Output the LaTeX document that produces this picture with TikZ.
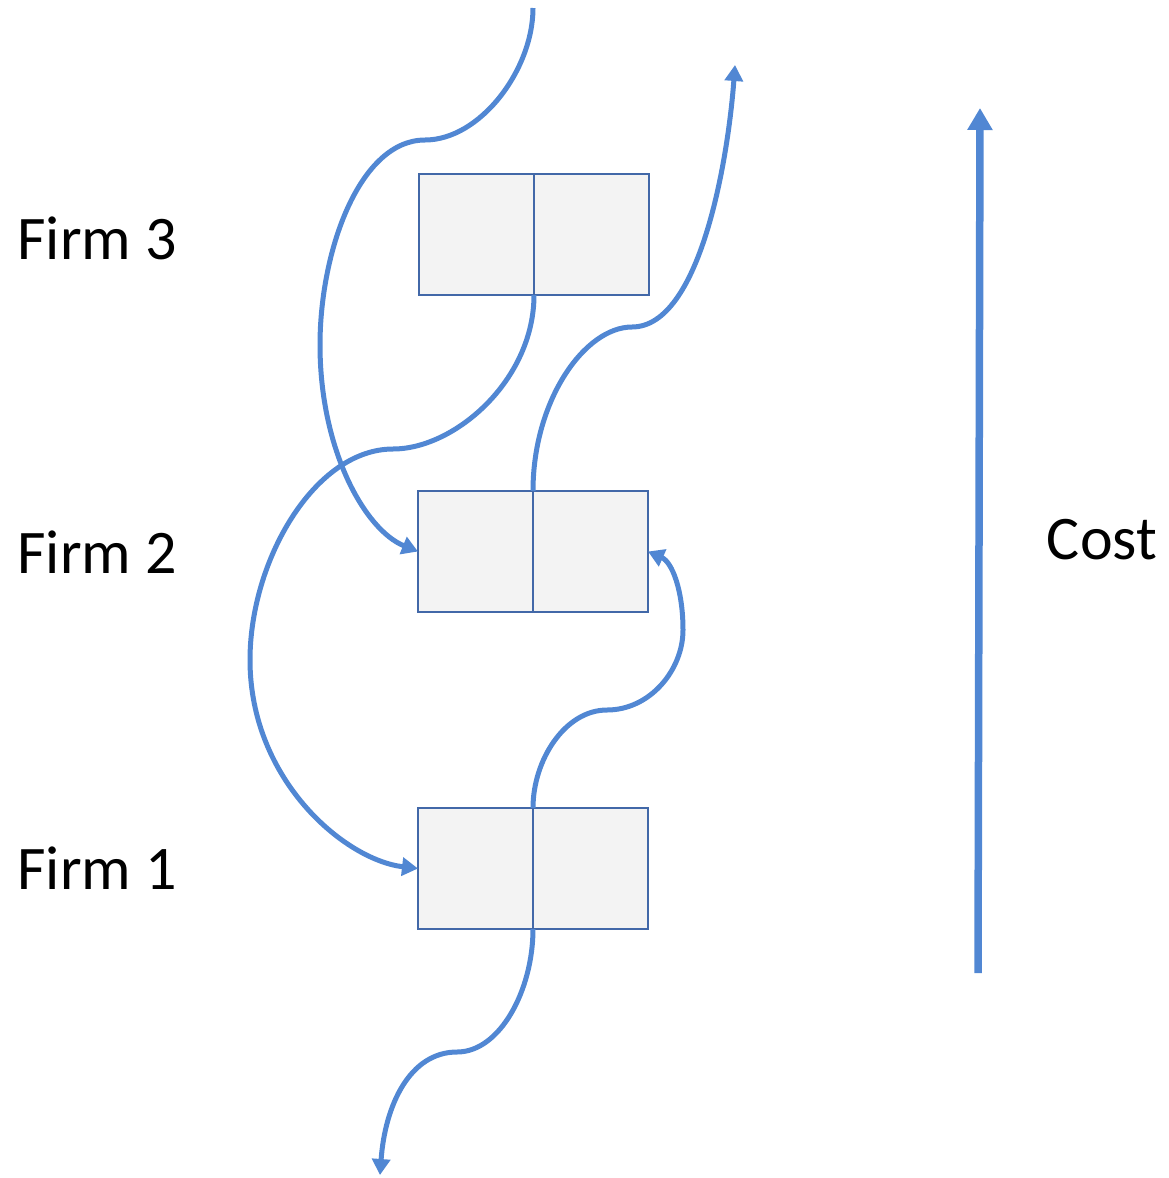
\documentclass[tikz,border=0pt]{standalone}
\usepackage{fontspec}
\setmainfont{Carlito}
\usetikzlibrary{arrows.meta}
\definecolor{flow}{HTML}{5187D3}
\definecolor{boxline}{HTML}{4268A8}
\definecolor{boxfill}{HTML}{F3F3F3}
\tikzset{
  half/.style={draw=boxline, fill=boxfill, line width=2pt, minimum width=115pt,
    minimum height=121pt, inner sep=0pt, outer sep=0pt},
  flowline/.style={draw=flow, line width=5pt, -{Triangle[width=18pt,length=16pt]}},
  costline/.style={draw=flow, line width=7.5pt, -{Triangle[width=24pt,length=22pt]}},
  firmlabel/.style={font=\fontsize{62}{74}\selectfont, inner sep=0pt}
}
\begin{document}
\begin{tikzpicture}[x=1pt,y=-1pt]
  \useasboundingbox (0,0) rectangle (1169,1178);

  % firm boxes, each split into two halves
  \node[half, anchor=north west] (f3l) at (419,174) {};
  \node[half, anchor=north west] (f3r) at (534,174) {};
  \node[half, anchor=north west] (f2l) at (418,491) {};
  \node[half, anchor=north west] (f2r) at (533,491) {};
  \node[half, anchor=north west] (f1l) at (418,808) {};
  \node[half, anchor=north west] (f1r) at (533,808) {};

  % labels
  \node[firmlabel] (l3) at (97,238) {Firm 3};
  \node[firmlabel] (l2) at (97,552) {Firm 2};
  \node[firmlabel] (l1) at (97,868) {Firm 1};
  \node[firmlabel] (lc) at (1102,540) {Cost};

  % free ends
  \coordinate (topin) at (533,8);
  \coordinate (topout) at (735,65);
  \coordinate (botout) at (380,1175);
  \coordinate (costlo) at (978,973);
  \coordinate (costhi) at (980,108);

  % flows between firms
  \draw[flowline] (topin) .. controls (533,70) and (480,140) .. (425,140)
    .. controls (360,140) and (320,250) .. (320,345)
    .. controls (320,450) and (365,530) .. (f2l.west);
  \draw[flowline] (f3l.south east) .. controls (534,380) and (455,449) .. (393,449)
    .. controls (315,449) and (250,560) .. (250,660)
    .. controls (250,780) and (345,860) .. (f1l.west);
  \draw[flowline] (f2l.north east) .. controls (533,400) and (585,327) .. (632,327)
    .. controls (700,327) and (728,160) .. (topout);
  \draw[flowline] (f1l.north east) .. controls (533,760) and (565,710) .. (607,710)
    .. controls (650,710) and (683,670) .. (683,630)
    .. controls (683,590) and (672,562) .. (f2r.east);
  \draw[flowline] (f1l.south east) .. controls (533,990) and (500,1052) .. (457,1052)
    .. controls (410,1052) and (385,1105) .. (botout);

  % cost axis
  \draw[costline] (costlo) -- (costhi);
\end{tikzpicture}
\end{document}
